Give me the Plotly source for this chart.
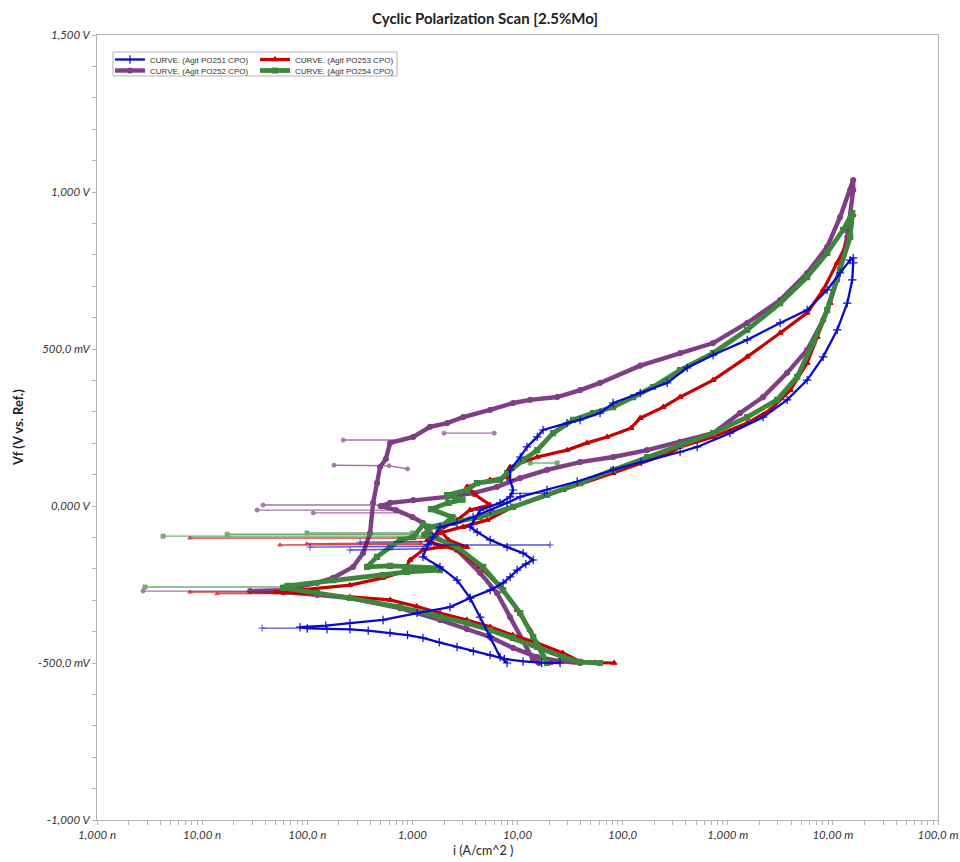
import plotly.graph_objects as go

# ---------------- data: (current density A/cm^2, potential V) ----------------
po251 = [  # blue
    (2.54e-5, -0.500), (1.7e-5, -0.499), (1.13e-5, -0.495), (7.5e-6, -0.487), (5.49e-6, -0.475),
    (3.8e-6, -0.463), (2.66e-6, -0.449), (1.8e-6, -0.434), (1.26e-6, -0.420), (9.0e-7, -0.411),
    (6.14e-7, -0.404), (3.8e-7, -0.397), (2.55e-7, -0.393), (1.54e-7, -0.392), (1.0e-7, -0.390),
    (8.54e-8, -0.386), (1.5e-7, -0.381), (2.55e-7, -0.373), (5.26e-7, -0.363), (1.11e-6, -0.341),
    (2.28e-6, -0.322), (3.54e-6, -0.293), (5.49e-6, -0.268), (7.29e-6, -0.245), (8.51e-6, -0.226),
    (9.91e-6, -0.204), (1.2e-5, -0.185), (1.41e-5, -0.172), (1.13e-5, -0.150), (7.96e-6, -0.131),
    (5.49e-6, -0.108), (4.13e-6, -0.083), (3.54e-6, -0.067), (4.41e-6, -0.013), (6.83e-6, 0.010),
    (8.51e-6, 0.029), (9.08e-6, 0.051), (8.51e-6, 0.083), (8.51e-6, 0.115), (1.06e-5, 0.156),
    (1.23e-5, 0.188), (1.54e-5, 0.220), (1.75e-5, 0.242), (2.96e-5, 0.264), (3.94e-5, 0.274),
    (6.10e-5, 0.296), (8.12e-5, 0.328), (1.47e-4, 0.360), (2.65e-4, 0.392), (4.11e-4, 0.440),
    (7.26e-4, 0.481), (1.53e-3, 0.529), (3.15e-3, 0.583), (5.69e-3, 0.624), (8.83e-3, 0.688),
    (1.17e-2, 0.742), (1.46e-2, 0.783), (1.56e-2, 0.790),
    (1.56e-2, 0.774), (1.53e-2, 0.720), (1.37e-2, 0.646), (1.10e-2, 0.561), (8.09e-3, 0.475),
    (5.69e-3, 0.401), (3.67e-3, 0.338), (2.17e-3, 0.283), (1.05e-3, 0.232), (5.12e-4, 0.188),
    (3.52e-4, 0.172), (1.5e-4, 0.140), (8.12e-5, 0.115), (3.7e-5, 0.078), (1.91e-5, 0.051),
    (1.06e-5, 0.029), (7.96e-6, 0.010), (5.49e-6, -0.013), (3.78e-6, -0.035), (2.66e-6, -0.054),
    (1.83e-6, -0.067), (1.57e-6, -0.099), (1.4e-6, -0.124),
    (1.26e-6, -0.162), (1.83e-6, -0.194), (2.66e-6, -0.236), (3.54e-6, -0.293), (4.41e-6, -0.354),
    (5.49e-6, -0.417), (6.83e-6, -0.481), (7.96e-6, -0.500),
]
po251_spikes = [
    (3.72e-8, -0.389), (1.0e-7, -0.389), None,
    (1.06e-7, -0.131), (1.4e-6, -0.128), None,
    (2.55e-7, -0.140), (1.3e-6, -0.136), None,
    (3.18e-7, -0.115), (1.5e-6, -0.113), None,
    (1.6e-6, -0.124), (2.04e-5, -0.124), None,
    (9.0e-6, 0.040), (1.8e-5, 0.041), None,
]

po252 = [  # purple
    (3.94e-5, -0.500), (2.5e-5, -0.494), (1.54e-5, -0.481), (9.08e-6, -0.452), (5.49e-6, -0.417),
    (3.3e-6, -0.392), (1.83e-6, -0.363), (7.64e-7, -0.325), (2.55e-7, -0.293), (1.24e-7, -0.283),
    (5.89e-8, -0.274), (2.86e-8, -0.271),
    (5.89e-8, -0.268), (1.24e-7, -0.245), (1.76e-7, -0.229), (2.73e-7, -0.194), (3.40e-7, -0.150),
    (3.96e-7, -0.086), (4.23e-7, 0.010), (4.61e-7, 0.073), (4.93e-7, 0.124), (5.6e-7, 0.150),
    (6.14e-7, 0.201), (1.02e-6, 0.220), (1.47e-6, 0.252), (2.14e-6, 0.264),
    (3.04e-6, 0.283), (5.49e-6, 0.306), (9.08e-6, 0.328), (1.32e-5, 0.338), (2.38e-5, 0.347),
    (3.94e-5, 0.369), (6.10e-5, 0.392), (1.47e-4, 0.447), (3.52e-4, 0.487), (7.26e-4, 0.519),
    (1.53e-3, 0.583), (3.15e-3, 0.656), (5.69e-3, 0.742), (8.83e-3, 0.825), (1.17e-2, 0.920),
    (1.46e-2, 1.006), (1.56e-2, 1.038),
    (1.56e-2, 1.006), (1.37e-2, 0.857), (1.10e-2, 0.720), (8.09e-3, 0.592), (5.69e-3, 0.497),
    (3.67e-3, 0.424), (2.17e-3, 0.347), (1.31e-3, 0.296), (7.26e-4, 0.232), (3.52e-4, 0.204),
    (1.71e-4, 0.178), (8.12e-5, 0.156), (3.94e-5, 0.140), (1.91e-5, 0.115), (1.06e-5, 0.089),
    (6.39e-6, 0.061), (3.78e-6, 0.041), (2.14e-6, 0.029), (1.02e-6, 0.019), (6.14e-7, 0.010),
    (5.0e-7, 0.000), (7.0e-7, -0.013), (1.0e-6, -0.035), (1.26e-6, -0.054),
    (1.47e-6, -0.086), (2.66e-6, -0.140), (4.41e-6, -0.213), (6.39e-6, -0.277), (8.51e-6, -0.354),
    (1.13e-5, -0.427), (1.41e-5, -0.490), (1.6e-5, -0.500),
]
po252_spikes = [
    (2.74e-9, -0.271), (5.0e-8, -0.271), None,
    (3.8e-8, 0.003), (6.0e-7, 0.003), None,
    (3.33e-8, -0.013), (7.0e-7, -0.013), None,
    (1.14e-7, -0.022), (8.0e-7, -0.022), None,
    (1.8e-7, 0.130), (6.0e-7, 0.128), (9.0e-7, 0.118), None,
    (2.2e-7, 0.210), (8.0e-7, 0.210), None,
    (2.0e-6, 0.232), (6.0e-6, 0.232), None,
]

po253 = [  # red
    (8.3e-5, -0.500), (5.5e-5, -0.499), (3.94e-5, -0.495), (2.7e-5, -0.468), (1.54e-5, -0.436),
    (9.0e-6, -0.411), (5.49e-6, -0.385), (3.3e-6, -0.363), (1.83e-6, -0.341), (1.1e-6, -0.320),
    (6.14e-7, -0.299), (2.55e-7, -0.290), (8.54e-8, -0.277), (5.0e-8, -0.275),
    (8.54e-8, -0.268), (2.55e-7, -0.252), (5.26e-7, -0.229), (8.15e-7, -0.210), (9.51e-7, -0.172),
    (1.26e-6, -0.140), (1.83e-6, -0.131), (3.3e-6, -0.131), (2.2e-6, -0.108), (1.83e-6, -0.076),
    (2.66e-6, -0.045), (3.54e-6, -0.013), (5.49e-6, 0.003), (4.0e-6, 0.035), (3.31e-6, 0.061),
    (5.49e-6, 0.083), (7.96e-6, 0.092), (8.51e-6, 0.124), (1.54e-5, 0.156), (2.96e-5, 0.178),
    (4.59e-5, 0.201), (7.11e-5, 0.220), (1.2e-4, 0.248), (1.47e-4, 0.280), (2.43e-4, 0.315),
    (3.52e-4, 0.347), (7.26e-4, 0.401), (1.53e-3, 0.475), (3.15e-3, 0.551), (5.69e-3, 0.615),
    (8.09e-3, 0.688), (1.10e-2, 0.774), (1.37e-2, 0.838), (1.56e-2, 0.927),
    (1.46e-2, 0.857), (1.17e-2, 0.752), (9.44e-3, 0.646), (7.10e-3, 0.538), (5.69e-3, 0.455),
    (3.93e-3, 0.369), (2.53e-3, 0.306), (1.53e-3, 0.264), (7.26e-4, 0.220), (3.52e-4, 0.188),
    (2.83e-4, 0.169), (8.12e-5, 0.105), (2.72e-5, 0.051), (9.08e-6, -0.003), (5.14e-6, -0.045),
    (3.04e-6, -0.067), (1.83e-6, -0.086), (1.4e-6, -0.108),
    (1.47e-6, -0.115), (2.66e-6, -0.140), (4.41e-6, -0.194), (6.83e-6, -0.258), (9.91e-6, -0.331),
    (1.32e-5, -0.395), (1.75e-5, -0.481), (2.04e-5, -0.500),
]
po253_spikes = [
    (7.67e-9, -0.274), (8.0e-8, -0.274), None,
    (1.39e-8, -0.279), (6.0e-8, -0.279), None,
    (7.67e-9, -0.102), (1.5e-6, -0.102), None,
    (5.51e-8, -0.124), (1.4e-6, -0.122), None,
    (9.95e-8, -0.120), (1.2e-6, -0.118), None,
]

po254 = [  # green
    (6.1e-5, -0.500), (3.94e-5, -0.497), (2.72e-5, -0.481), (1.54e-5, -0.449), (9.08e-6, -0.420),
    (5.49e-6, -0.395), (3.3e-6, -0.373), (1.83e-6, -0.354), (7.64e-7, -0.322), (2.55e-7, -0.293),
    (1.24e-7, -0.277), (5.89e-8, -0.261),
    (6.5e-8, -0.254), (1.76e-7, -0.236), (5.26e-7, -0.220), (8.91e-7, -0.210), (1.83e-6, -0.204),
    (1.72e-6, -0.197), (6.14e-7, -0.191), (3.71e-7, -0.194), (4.61e-7, -0.162), (6.14e-7, -0.131),
    (7.64e-7, -0.108), (1.02e-6, -0.099), (1.26e-6, -0.060), (1.8e-6, -0.070), (2.4e-6, -0.035),
    (1.5e-6, -0.010), (2.2e-6, 0.010), (3.0e-6, 0.020), (2.14e-6, 0.035), (3.31e-6, 0.051),
    (4.13e-6, 0.073), (6.83e-6, 0.083), (7.96e-6, 0.105), (1.13e-5, 0.146), (1.54e-5, 0.178),
    (2.18e-5, 0.232), (3.38e-5, 0.274), (5.24e-5, 0.296), (8.12e-5, 0.315), (1.26e-4, 0.347),
    (1.95e-4, 0.379), (3.52e-4, 0.433), (7.26e-4, 0.487), (1.53e-3, 0.561), (3.15e-3, 0.646),
    (5.69e-3, 0.729), (8.83e-3, 0.806), (1.25e-2, 0.879), (1.53e-2, 0.933),
    (1.46e-2, 0.857), (1.17e-2, 0.752), (8.83e-3, 0.624), (6.50e-3, 0.519), (4.57e-3, 0.411),
    (2.95e-3, 0.338), (1.53e-3, 0.283), (7.26e-4, 0.232), (3.52e-4, 0.194), (1.71e-4, 0.156),
    (8.12e-5, 0.115), (3.94e-5, 0.073), (1.91e-5, 0.035), (9.08e-6, -0.003), (4.41e-6, -0.035),
    (2.44e-6, -0.054), (1.47e-6, -0.067), (1.3e-6, -0.092),
    (1.57e-6, -0.099), (2.66e-6, -0.131), (4.71e-6, -0.194), (7.29e-6, -0.268), (1.06e-5, -0.341),
    (1.41e-5, -0.417), (1.75e-5, -0.481), (1.91e-5, -0.500),
]
po254_spikes = [
    (2.86e-9, -0.258), (6.0e-8, -0.258), None,
    (4.25e-9, -0.096), (1.3e-6, -0.096), None,
    (1.73e-8, -0.090), (1.1e-6, -0.090), None,
    (9.95e-8, -0.086), (1.0e-6, -0.086), None,
    (1.32e-5, 0.137), (2.38e-5, 0.137), None,
]

x_tick_vals = [1e-9, 1e-8, 1e-7, 1e-6, 1e-5, 1e-4, 1e-3, 1e-2, 1e-1]
x_tick_text = ["1,000 n", "10,00 n", "100,0 n", "1,000", "10,00", "100,0", "1,000 m", "10,00 m", "100,0 m"]
y_tick_vals = [-1.0, -0.5, 0.0, 0.5, 1.0, 1.5]
y_tick_text = ["-1,000 V", "-500,0 mV", "0,000 V", "500,0 mV", "1,000 V", "1,500 V"]

# ---------------- helpers ----------------
def unzip(pts):
    xs = [p[0] if p is not None else None for p in pts]
    ys = [p[1] if p is not None else None for p in pts]
    return xs, ys

fig = go.Figure()

curves = [
    # name, main, spikes, color, symbol, line width, marker size, legend, rank
    ("CURVE. (Agit PO252 CPO)", po252, po252_spikes, "#7f3f86", "circle", 4.4, 5, "legend2", 1),
    ("CURVE. (Agit PO253 CPO)", po253, po253_spikes, "#c80000", "triangle-up", 3.2, 5, "legend", 2),
    ("CURVE. (Agit PO254 CPO)", po254, po254_spikes, "#3d873d", "square", 4.8, 5, "legend2", 2),
    ("CURVE. (Agit PO251 CPO)", po251, po251_spikes, "#0a0acb", "cross-thin", 2.3, 6, "legend", 1),
]

for name, main, spikes, color, symbol, lw, ms, leg, rank in curves:
    sx, sy = unzip(spikes)
    fig.add_trace(go.Scatter(
        x=sx, y=sy, mode="lines+markers", showlegend=False, hoverinfo="skip",
        line=dict(color=color, width=1.4), opacity=0.7, connectgaps=False,
        marker=dict(symbol=symbol, size=ms - 1, color=color, line=dict(color=color, width=1)),
    ))
    mx, my = unzip(main)
    fig.add_trace(go.Scatter(
        x=mx, y=my, mode="lines+markers", name=name, legend=leg, legendrank=rank,
        line=dict(color=color, width=lw),
        marker=dict(symbol=symbol, size=ms, color=color, line=dict(color=color, width=1.2)),
    ))

tick_font = dict(family="Lato", size=11.5, color="#333333", style="italic")
axis_line = "#b4b4b4"

fig.update_xaxes(
    type="log", range=[-9, -1], tickmode="array", tickvals=x_tick_vals, ticktext=x_tick_text,
    tickfont=tick_font, ticks="outside", ticklen=4, tickcolor=axis_line, automargin=False,
    showline=True, linecolor=axis_line, linewidth=1, mirror=True, showgrid=False, zeroline=False,
    minor=dict(ticks="outside", ticklen=4, tickcolor=axis_line, dtick="D1", showgrid=False),
)
fig.update_yaxes(
    range=[-1.0, 1.5], tickmode="array", tickvals=y_tick_vals, ticktext=y_tick_text,
    tickfont=tick_font, ticks="outside", ticklen=4, tickcolor=axis_line, automargin=False,
    showline=True, linecolor=axis_line, linewidth=1, mirror=True, showgrid=False, zeroline=False,
    minor=dict(ticks="outside", ticklen=4, tickcolor=axis_line, dtick=0.1, showgrid=False),
)

W, H = 960, 862
PL, PR, PT, PB = 97, 938, 35, 820
def px_x(x):
    return (x - PL) / (PR - PL)
def px_y(y):
    return (PB - y) / (PB - PT)

legend_font = dict(family="Liberation Sans", size=8, color="#333333")
common_leg = dict(orientation="h", xanchor="left", yanchor="top", bgcolor="rgba(0,0,0,0)",
                  borderwidth=0, font=legend_font, entrywidth=100, entrywidthmode="pixels",
                  itemwidth=30, tracegroupgap=0, xref="container", yref="container")

fig.update_layout(
    width=W, height=H,
    margin=dict(l=PL, r=W - PR, t=PT, b=H - PB, autoexpand=False),
    paper_bgcolor="white", plot_bgcolor="white",
    title=dict(text="<b>Cyclic Polarization Scan [2.5%Mo]</b>", x=485 / W, xref="container",
               xanchor="center", y=1 - 19 / H, yref="container", yanchor="middle",
               font=dict(family="Lato", size=15, color="#222222")),
    legend=dict(x=110 / W, y=1 - 45 / H, **common_leg),
    legend2=dict(x=110 / W, y=1 - 56 / H, **common_leg),
    shapes=[dict(type="rect", xref="paper", yref="paper", x0=px_x(113), x1=px_x(397),
                 y0=px_y(76), y1=px_y(52), line=dict(color="#b4b4b4", width=1),
                 fillcolor="white", layer="above")],
    annotations=[
        dict(text="i (A/cm^2 )", xref="paper", yref="paper", x=px_x(483), y=px_y(850),
             showarrow=False, xanchor="center", yanchor="middle",
             font=dict(family="Lato", size=12.5, color="#222222")),
        dict(text="<b>Vf (V vs. Ref.)</b>", xref="paper", yref="paper", x=px_x(18), y=px_y(428),
             showarrow=False, xanchor="center", yanchor="middle", textangle=-90,
             font=dict(family="Lato", size=13, color="#222222")),
    ],
)

fig.write_html("out.html", config={"displayModeBar": False},
               post_script="document.body.style.margin='0px';")
